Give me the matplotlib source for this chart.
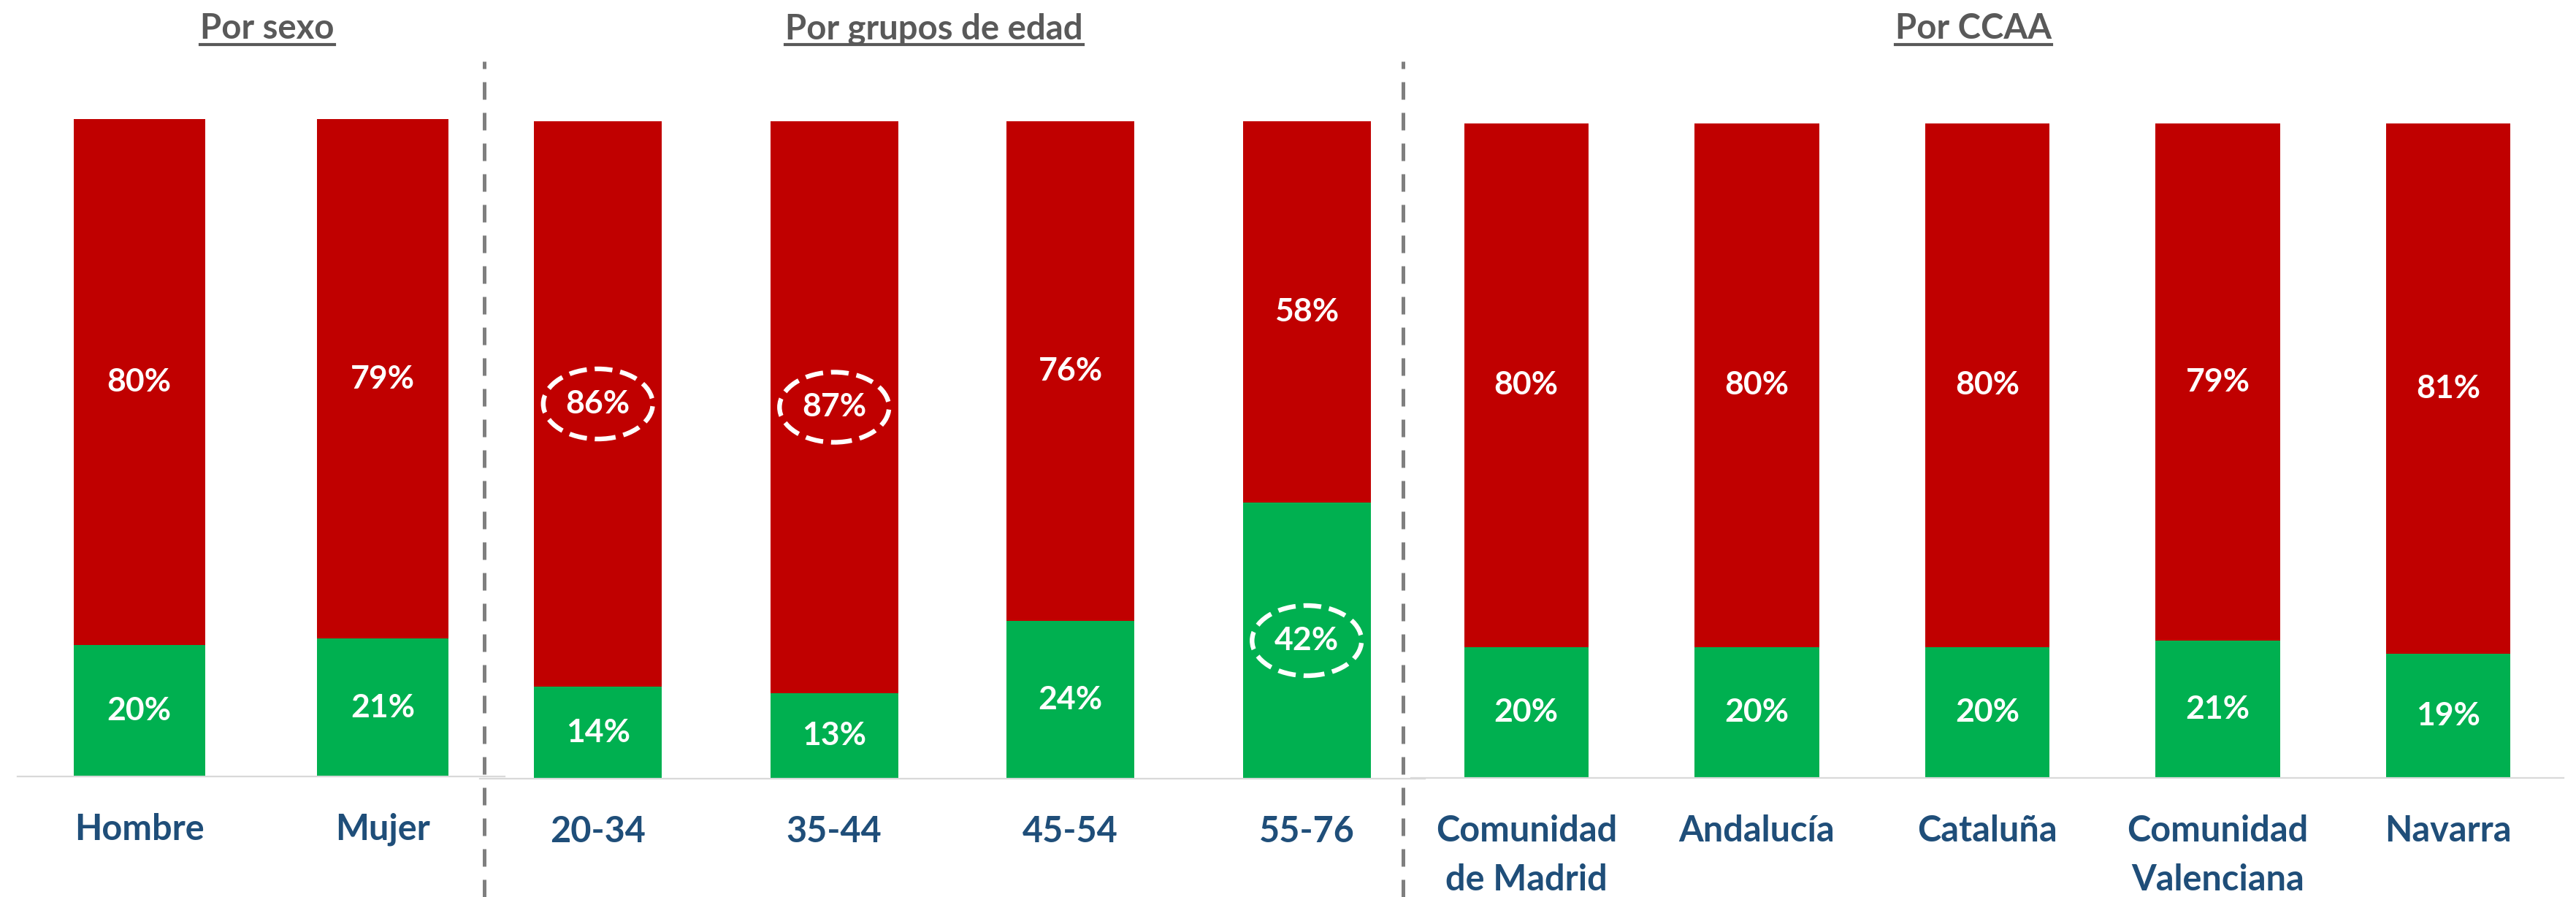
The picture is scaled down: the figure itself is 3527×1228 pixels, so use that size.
import matplotlib
matplotlib.use("Agg")
from matplotlib import pyplot as plt
from matplotlib.patches import Ellipse
from matplotlib.lines import Line2D

# data
sexo_labels = ["Hombre", "Mujer"]
sexo_verde = [20, 21]
sexo_rojo = [80, 79]

edad_labels = ["20-34", "35-44", "45-54", "55-76"]
edad_verde = [14, 13, 24, 42]
edad_rojo = [86, 87, 76, 58]

ccaa_labels = ["Comunidad\nde Madrid", "Andalucía", "Cataluña", "Comunidad\nValenciana", "Navarra"]
ccaa_verde = [20, 20, 20, 21, 19]
ccaa_rojo = [80, 80, 80, 79, 81]

titles = ["Por sexo", "Por grupos de edad", "Por CCAA"]

ROJO = "#C00000"
VERDE = "#00B050"
AZUL = "#1F4E79"
GRIS = "#595959"

W, H = 3527, 1228
plt.rcParams["font.family"] = ["Lato", "DejaVu Sans"]
fig = plt.figure(figsize=(W / 100, H / 100), dpi=100)


def px_axes(left, right, top, bottom):
    return fig.add_axes([left / W, 1 - bottom / H, (right - left) / W, (bottom - top) / H])


def draw_group(ax, labels, verde, rojo):
    x = list(range(len(labels)))
    ax.bar(x, verde, width=0.54, color=VERDE)
    ax.bar(x, rojo, width=0.54, bottom=verde, color=ROJO)
    for i in x:
        ax.text(i, verde[i] / 2, f"{verde[i]}%", ha="center", va="center",
                color="white", fontsize=32, fontweight="bold")
        ax.text(i, verde[i] + rojo[i] / 2, f"{rojo[i]}%", ha="center", va="center",
                color="white", fontsize=32, fontweight="bold")
    ax.set_xlim(-0.5, len(labels) - 0.5)
    ax.set_ylim(0, 100)
    ax.set_xticks(x)
    ax.set_xticklabels(labels, fontsize=35, fontweight="bold", color=AZUL, linespacing=1.6)
    ax.tick_params(axis="x", length=0, pad=36)
    ax.set_yticks([])
    for s in ["top", "left", "right"]:
        ax.spines[s].set_visible(False)
    ax.spines["bottom"].set_color("#D9D9D9")
    ax.spines["bottom"].set_linewidth(1.6)
    ax.patch.set_alpha(0)


ax1 = px_axes(24, 691, 163, 1063)
ax2 = px_axes(657, 1951, 166, 1066)
ax3 = px_axes(1932, 3510, 169, 1065)

draw_group(ax1, sexo_labels, sexo_verde, sexo_rojo)
draw_group(ax2, edad_labels, edad_verde, edad_rojo)
draw_group(ax3, ccaa_labels, ccaa_verde, ccaa_rojo)

# dashed circles around the highlighted values
ell_w, ell_h = 150 / 323.7, 96 / 900 * 100
ell_style = dict(fill=False, edgecolor="white", lw=4.6, linestyle=(0, (3.8, 1.7)))
for i in [0, 1]:
    ax2.add_patch(Ellipse((i, edad_verde[i] + edad_rojo[i] / 2), ell_w, ell_h, **ell_style))
ax2.add_patch(Ellipse((3, edad_verde[3] / 2), ell_w, ell_h, **ell_style))

# vertical separators
for xs in [663, 1921]:
    fig.add_artist(Line2D([xs / W, xs / W], [0, 1 - 84 / H], transform=fig.transFigure,
                          color="#7F7F7F", lw=3.6, dashes=(4.8, 3.6)))

# group titles with underline
title_x = [366, 1279, 2702]
fig.canvas.draw()
renderer = fig.canvas.get_renderer()
for t, xc in zip(titles, title_x):
    txt = fig.text(xc / W, 1 - 53 / H, t, ha="center", va="baseline",
                   fontsize=34, fontweight="bold", color=GRIS)
    bb = txt.get_window_extent(renderer=renderer)
    fig.add_artist(Line2D([bb.x0 / W, bb.x1 / W], [1 - 61 / H, 1 - 61 / H],
                          transform=fig.transFigure, color=GRIS, lw=3))

fig.savefig("out.png", dpi=100, facecolor="white")
